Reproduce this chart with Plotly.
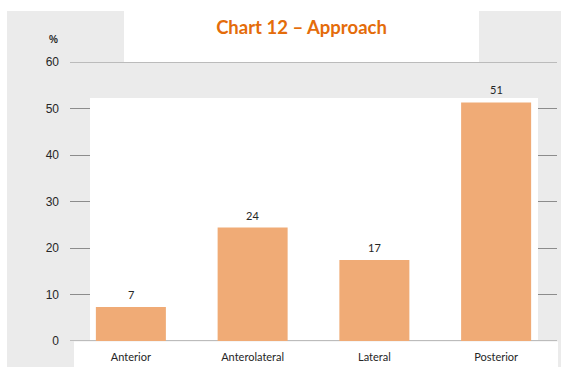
import plotly.graph_objects as go

categories = ["Anterior", "Anterolateral", "Lateral", "Posterior"]
values = [7.3, 24.4, 17.4, 51.3]
y_ticks = [0, 10, 20, 30, 40, 50, 60]

W, H = 561, 367
L, R, T, B = 70, 4, 62, 26
pw, ph = W - L - R, H - T - B
GRID = "#8C8C8C"

def px_x(p):
    return (p - L) / pw

def px_y(p):
    return (H - B - p) / ph

fig = go.Figure()
fig.add_trace(go.Bar(
    x=categories, y=values,
    marker=dict(color="#F0AB76", line=dict(width=0)),
    width=0.575,
))

shapes = [
    dict(type="rect", xref="paper", yref="paper", x0=px_x(7), x1=px_x(561),
         y0=px_y(367), y1=px_y(11), fillcolor="#EBEBEB", line=dict(width=0), layer="below"),
    dict(type="rect", xref="paper", yref="paper", x0=px_x(124), x1=px_x(479),
         y0=px_y(62), y1=px_y(11), fillcolor="white", line=dict(width=0), layer="below"),
    dict(type="rect", xref="paper", yref="paper", x0=px_x(74), x1=px_x(558),
         y0=px_y(367), y1=px_y(341.5), fillcolor="white", line=dict(width=0), layer="below"),
    dict(type="line", xref="paper", yref="y", x0=0, x1=1, y0=y_ticks[0], y1=y_ticks[0],
         line=dict(color=GRID, width=1), layer="below"),
    dict(type="line", xref="paper", yref="y", x0=0, x1=1, y0=y_ticks[-1], y1=y_ticks[-1],
         line=dict(color=GRID, width=1), layer="below"),
    dict(type="rect", xref="x", yref="y", x0=(90 - L) / (pw / 4) - 0.5, x1=(538 - L) / (pw / 4) - 0.5,
         y0=0.2, y1=(H - B - 98) / (ph / 60), fillcolor="white", line=dict(width=0), layer="between"),
]

annotations = [dict(text="<b>%</b>", xref="paper", yref="paper", x=px_x(53), y=px_y(40),
                    showarrow=False, xanchor="center", yanchor="middle",
                    font=dict(family="Arial", size=10, color="#262626"))]
for c, v in zip(categories, values):
    annotations.append(dict(text=f"{v:.0f}", x=c, y=v, xref="x", yref="y",
                            showarrow=False, xanchor="center", yanchor="bottom", yshift=4,
                            font=dict(family="Lato, Arial", size=11, color="#262626")))

fig.update_layout(
    width=W, height=H,
    margin=dict(l=L, r=R, t=T, b=B, pad=0),
    paper_bgcolor="white",
    plot_bgcolor="rgba(0,0,0,0)",
    showlegend=False,
    shapes=shapes,
    title=dict(text="<b>Chart 12 – Approach</b>", xref="paper", x=px_x(301.5), xanchor="center",
               y=1 - 28 / H, yanchor="middle",
               font=dict(family="Lato, Arial", size=18.5, color="#E46C0A")),
    annotations=annotations,
)
fig.update_yaxes(range=[0, 60], tickvals=y_ticks, showgrid=True, gridcolor=GRID, gridwidth=1,
                 zeroline=False, showline=False, ticks="", ticklabelstandoff=10,
                 tickfont=dict(family="Liberation Sans, Arial", size=12, color="#262626"))
fig.update_xaxes(range=[-0.5, 3.5], showgrid=False, zeroline=False, showline=False, ticks="",
                 ticklabelstandoff=8,
                 tickfont=dict(family="Lato, Arial", size=11, color="#262626"))

fig.write_html("out.html")
